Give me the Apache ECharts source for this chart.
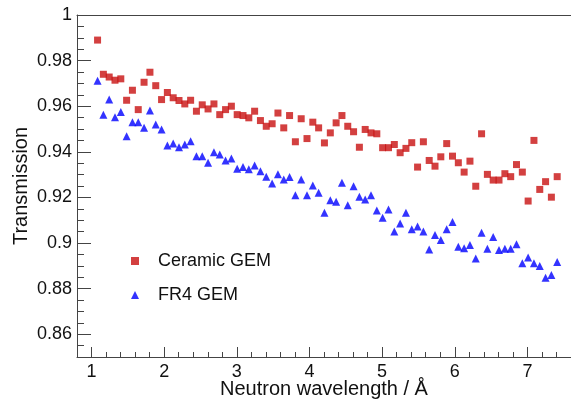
<!DOCTYPE html>
<html>
<head>
<meta charset="utf-8">
<script src="https://cdn.jsdelivr.net/npm/echarts@6/dist/echarts.min.js"></script>
<style>
  html, body { margin: 0; padding: 0; background: #fff; }
  #chart { width: 571px; height: 399px; }
</style>
</head>
<body>
<div id="chart"></div>
<script>
// wavelength bins (Å)
const wavelength = [
  1.083, 1.163, 1.243, 1.323, 1.403, 1.483, 1.563, 1.643, 1.723, 1.804,
  1.884, 1.964, 2.044, 2.124, 2.204, 2.284, 2.364, 2.444, 2.524, 2.604,
  2.685, 2.765, 2.845, 2.925, 3.005, 3.085, 3.165, 3.245, 3.325, 3.405,
  3.486, 3.566, 3.646, 3.726, 3.806, 3.886, 3.966, 4.046, 4.126, 4.206,
  4.287, 4.367, 4.447, 4.527, 4.607, 4.687, 4.767, 4.847, 4.927, 5.007,
  5.088, 5.168, 5.248, 5.328, 5.408, 5.488, 5.568, 5.648, 5.728, 5.808,
  5.889, 5.969, 6.049, 6.129, 6.209, 6.289, 6.369, 6.449, 6.529, 6.609,
  6.690, 6.770, 6.850, 6.930, 7.010, 7.090, 7.170, 7.250, 7.330, 7.410
];

const ceramicGem = [
  0.989, 0.974, 0.9728, 0.9714, 0.972, 0.9626, 0.967, 0.9585, 0.9705, 0.9749,
  0.969, 0.9629, 0.966, 0.9637, 0.9625, 0.961, 0.9626, 0.9578, 0.9606, 0.9588,
  0.961, 0.9563, 0.9585, 0.960, 0.9563, 0.9559, 0.9549, 0.9578, 0.9537, 0.9512,
  0.9523, 0.957, 0.9505, 0.9559, 0.9444, 0.9545, 0.9458, 0.953, 0.9505, 0.9439,
  0.9483, 0.9527, 0.9559, 0.9512, 0.9488, 0.942, 0.9498, 0.9483, 0.9479, 0.9418,
  0.9418, 0.9432, 0.9396, 0.9415, 0.944, 0.9333, 0.9444, 0.9362, 0.9337, 0.9378,
  0.9436, 0.9381, 0.9352, 0.9311, 0.9359, 0.9249, 0.9479, 0.9301, 0.9276, 0.9276,
  0.9304, 0.9291, 0.9344, 0.9311, 0.9184, 0.945, 0.9235, 0.9269, 0.9201, 0.9291
];

const fr4Gem = [
  0.9712, 0.9563, 0.9629, 0.9552, 0.9575, 0.9468, 0.953, 0.953, 0.9505, 0.9581,
  0.952, 0.9498, 0.9428, 0.9436, 0.942, 0.9432, 0.9446, 0.9381, 0.9381, 0.9352,
  0.9398, 0.9388, 0.9362, 0.9371, 0.9326, 0.9333, 0.9323, 0.934, 0.9315, 0.9291,
  0.9261, 0.9301, 0.9279, 0.9289, 0.9209, 0.9279, 0.9209, 0.9252, 0.922, 0.9133,
  0.9188, 0.9181, 0.9264, 0.9166, 0.9249, 0.9203, 0.9191, 0.9209, 0.9143, 0.9111,
  0.9147, 0.905, 0.9086, 0.9133, 0.906, 0.9072, 0.905, 0.8972, 0.9035, 0.9013,
  0.906, 0.9092, 0.8984, 0.8977, 0.8991, 0.8932, 0.9045, 0.8975, 0.9026, 0.8969,
  0.8975, 0.8975, 0.8994, 0.8911, 0.8936, 0.8911, 0.8899, 0.8848, 0.886, 0.8917
];

const xTicks = [1, 2, 3, 4, 5, 6, 7];
const yTicks = [0.86, 0.88, 0.9, 0.92, 0.94, 0.96, 0.98, 1];

const font = 'Liberation Sans, Arial, sans-serif';
const axisColor = '#444';

const chart = echarts.init(document.getElementById('chart'));

chart.setOption({
  animation: false,
  backgroundColor: '#fff',
  grid: { left: 77, right: 0, top: 15, bottom: 42, outerBoundsMode: 'none' },
  legend: {
    orient: 'vertical',
    left: 126,
    top: 246,
    itemWidth: 8,
    itemHeight: 8,
    itemGap: 14,
    textStyle: { fontFamily: font, fontSize: 18, color: '#111', lineHeight: 20, padding: [0, 0, 0, 14] },
    data: ['Ceramic GEM', 'FR4 GEM'],
  },
  xAxis: [
    {
      type: 'value',
      min: 0.8,
      max: 7.6,
      position: 'bottom',
      name: 'Neutron wavelength / Å',
      nameLocation: 'middle',
      nameGap: 22,
      nameMoveOverlap: false,
      nameTextStyle: { fontFamily: font, fontSize: 20, color: '#111' },
      axisLine: { show: true, lineStyle: { color: axisColor, width: 1 } },
      axisTick: { show: true, inside: true, length: 10, customValues: xTicks, lineStyle: { color: axisColor } },
      axisLabel: { customValues: xTicks, margin: 6, fontFamily: font, fontSize: 18, color: '#111' },
      splitLine: { show: false },
    },
    {
      type: 'value',
      min: 0.8,
      max: 7.6,
      interval: 0.2,
      position: 'bottom',
      axisLine: { show: false },
      axisTick: { show: true, inside: true, length: 5, lineStyle: { color: axisColor } },
      axisLabel: { show: false },
      splitLine: { show: false },
    },
    {
      type: 'value',
      min: 0.8,
      max: 7.6,
      position: 'top',
      axisLine: { show: true, lineStyle: { color: axisColor, width: 1 } },
      axisTick: { show: false },
      axisLabel: { show: false },
      splitLine: { show: false },
    },
  ],
  yAxis: [
    {
      type: 'value',
      min: 0.85,
      max: 1,
      position: 'left',
      name: 'Transmission',
      nameLocation: 'middle',
      nameGap: 46,
      nameMoveOverlap: false,
      nameTextStyle: { fontFamily: font, fontSize: 20, color: '#111' },
      axisLine: { show: true, lineStyle: { color: axisColor, width: 1 } },
      axisTick: { show: true, inside: true, length: 14, customValues: yTicks, lineStyle: { color: axisColor } },
      axisLabel: {
        customValues: yTicks,
        margin: 5,
        fontFamily: font,
        fontSize: 18,
        color: '#111',
        formatter: (v) => String(+v.toFixed(2)),
      },
      splitLine: { show: false },
    },
    {
      type: 'value',
      min: 0.85,
      max: 1,
      interval: 0.005,
      position: 'left',
      axisLine: { show: false },
      axisTick: { show: true, inside: true, length: 7, lineStyle: { color: axisColor } },
      axisLabel: { show: false },
      splitLine: { show: false },
    },
  ],
  series: [
    {
      name: 'Ceramic GEM',
      type: 'scatter',
      symbol: 'rect',
      symbolSize: 7,
      itemStyle: { color: '#c81010' },
      data: wavelength.map((x, i) => [x, ceramicGem[i]]),
    },
    {
      name: 'FR4 GEM',
      type: 'scatter',
      symbol: 'triangle',
      symbolSize: 8,
      itemStyle: { color: '#0000ff' },
      data: wavelength.map((x, i) => [x, fr4Gem[i]]),
    },
  ],
});
</script>
</body>
</html>
